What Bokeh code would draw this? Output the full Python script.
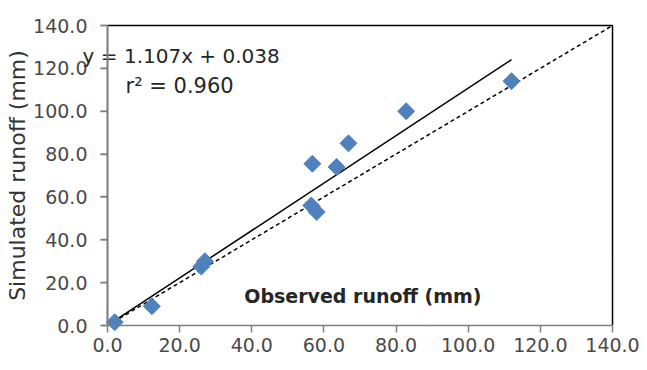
import math
from bokeh.plotting import figure
from bokeh.models import (Range1d, NumeralTickFormatter, Label, FixedTicker, ColumnDataSource,
                          BoxAnnotation)
from bokeh.embed import file_html
from bokeh.resources import INLINE

# Data
observed = [2.0, 12.3, 26.0, 27.0, 56.5, 58.0, 56.8, 63.5, 66.8, 82.8, 112.0]
simulated = [1.5, 9.0, 27.5, 30.0, 56.0, 53.0, 75.5, 74.0, 85.0, 100.0, 114.0]
slope = 1.107
intercept = 0.038
r2 = 0.960
ticks = [0, 20, 40, 60, 80, 100, 120, 140]

FONT = "DejaVu Sans"
AXIS_GRAY = "#808080"

# The frame covers the whole canvas so nothing (equation text, tick labels) gets clipped;
# both axes are pinned at 0 and bounded to the 0..140 plot area.
W, H = 647, 370
left_px, right_px, top_px, bottom_px = 107, 612, 25, 325
kx = (right_px - left_px) / (ticks[-1] - ticks[0])
ky = (bottom_px - top_px) / (ticks[-1] - ticks[0])
x_range = Range1d(ticks[0] - left_px / kx, ticks[-1] + (W - right_px) / kx)
y_range = Range1d(ticks[0] - (H - bottom_px) / ky, ticks[-1] + top_px / ky)

p = figure(width=W, height=H, output_backend="svg", toolbar_location=None,
           x_range=x_range, y_range=y_range,
           min_border_left=0, min_border_right=0, min_border_top=0, min_border_bottom=0)

p.xgrid.visible = False
p.ygrid.visible = False
p.outline_line_color = None

for ax in (p.xaxis[0], p.yaxis[0]):
    ax.ticker = FixedTicker(ticks=ticks)
    ax.formatter = NumeralTickFormatter(format="0.0")
    ax.minor_tick_line_color = None
    ax.major_tick_in = 0
    ax.major_tick_out = 7
    ax.axis_line_color = AXIS_GRAY
    ax.major_tick_line_color = AXIS_GRAY
    ax.axis_line_width = 1.5
    ax.major_tick_line_width = 1.5
    ax.major_label_text_font = FONT
    ax.major_label_text_font_size = "19px"
    ax.major_label_text_color = "#4a4a4a"
    ax.bounds = (ticks[0], ticks[-1])
    ax.fixed_location = ticks[0]

p.xaxis.major_label_standoff = 5
p.yaxis.major_label_standoff = 13
p.yaxis.axis_label = "Simulated runoff (mm)"
p.yaxis.axis_label_text_font = FONT
p.yaxis.axis_label_text_font_size = "22px"
p.yaxis.axis_label_text_font_style = "normal"
p.yaxis.axis_label_text_color = "#333333"
p.yaxis.axis_label_standoff = 0

# vertical axis rule as a zero-width box outline, plus outward ticks
p.add_layout(BoxAnnotation(left=ticks[0], right=ticks[0], bottom=ticks[0], top=ticks[-1],
                           fill_color=None, fill_alpha=0, line_color=AXIS_GRAY,
                           line_width=1.5, line_alpha=1.0, level="overlay"))
p.line(x=[ticks[0], ticks[0]], y=[ticks[0], ticks[-1]],
       line_color=AXIS_GRAY, line_width=1.5, level="overlay")
p.segment(x0=[ticks[0]] * len(ticks), y0=ticks, x1=[ticks[0] - 7 / kx] * len(ticks), y1=ticks,
          line_color=AXIS_GRAY, line_width=1.5, level="overlay")
# top and right border
p.line(x=[ticks[0], ticks[-1], ticks[-1]], y=[ticks[-1], ticks[-1], ticks[0]],
       line_color="black", line_width=1.5)

# 1:1 line
p.line(x=[ticks[0], ticks[-1]], y=[ticks[0], ticks[-1]], line_color="black",
       line_width=1.5, line_dash="4 3")
# regression line
xr = [min(observed), max(observed)]
p.line(x=xr, y=[slope * v + intercept for v in xr], line_color="black", line_width=1.5)

src = ColumnDataSource(dict(x=observed, y=simulated))
p.scatter("x", "y", source=src, marker="square", size=12, angle=math.pi / 4,
          fill_color="#4F81BD", line_color="#4F81BD")

p.add_layout(Label(x=-6.9, y=126, text="y = 1.107x + 0.038", text_font=FONT,
                   text_font_size="20px", text_baseline="middle", text_color="#262626"))
p.add_layout(Label(x=5.0, y=112, text="r² = 0.960", text_font=FONT,
                   text_font_size="21px", text_baseline="middle", text_color="#262626"))
p.add_layout(Label(x=70.8, y=14.0, text="Observed runoff (mm)", text_font=FONT,
                   text_font_size="19px", text_font_style="bold", text_align="center",
                   text_baseline="middle", text_color="#262626"))

open("out.html", "w").write(file_html(p, INLINE))
